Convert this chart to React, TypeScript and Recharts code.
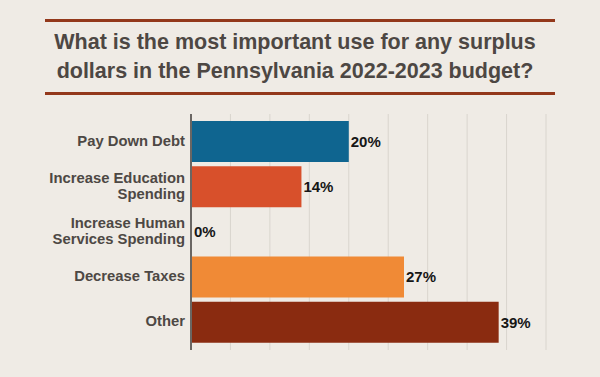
import { BarChart, Bar, XAxis, YAxis, CartesianGrid, Cell, LabelList } from 'recharts';

const categories = [
  'Pay Down Debt',
  'Increase Education\nSpending',
  'Increase Human\nServices Spending',
  'Decrease Taxes',
  'Other',
];
const shares = [20, 14, 0, 27, 39];
const barColors = ['#0f6590', '#d8502b', 'none', '#f08a36', '#8a2b10'];
const xTicks = [0, 5, 10, 15, 20, 25, 30, 35, 40, 45];

const FONT = '"Liberation Sans", Arial, Helvetica, sans-serif';

const data = categories.map((name, i) => ({ name, value: shares[i] }));

function CategoryTick(props: any) {
  const { x, y, payload } = props;
  const lines = String(payload.value).split('\n');
  const lh = 15.5;
  const startY = y - 1 - ((lines.length - 1) * lh) / 2;
  return (
    <text
      x={x}
      y={startY}
      textAnchor="end"
      dominantBaseline="central"
      fill="#4d4844"
      fontFamily={FONT}
      fontWeight="bold"
      fontSize={14.8}
    >
      {lines.map((line, i) => (
        <tspan key={i} x={x} y={startY + i * lh}>
          {line}
        </tspan>
      ))}
    </text>
  );
}

const rule = (top: number) => (
  <div
    style={{
      position: 'absolute',
      left: 45,
      top,
      width: 510,
      height: 3,
      background: '#93381b',
    }}
  />
);

export default function App() {
  return (
    <div
      style={{
        position: 'absolute',
        left: 0,
        top: 0,
        width: 600,
        height: 377,
        background: '#efebe5',
        overflow: 'hidden',
      }}
    >
      {rule(19)}
      <div
        style={{
          position: 'absolute',
          left: -5,
          top: 28,
          width: 600,
          textAlign: 'center',
          fontFamily: FONT,
          fontWeight: 'bold',
          fontSize: 21.5,
          lineHeight: '29px',
          color: '#4d4743',
        }}
      >
        What is the most important use for any surplus
        <br />
        dollars in the Pennsylvania 2022-2023 budget?
      </div>
      {rule(92)}
      <div style={{ position: 'absolute', left: 0, top: 0 }}>
        <BarChart
          width={600}
          height={377}
          data={data}
          layout="vertical"
          margin={{ top: 114, right: 54, bottom: 27, left: 0 }}
        >
          <CartesianGrid horizontal={false} stroke="#d9d5ce" strokeWidth={1} />
          <XAxis type="number" domain={[0, 45]} ticks={xTicks} hide />
          <YAxis
            type="category"
            dataKey="name"
            width={191}
            padding={{ top: 5, bottom: 5 }}
            axisLine={{ stroke: '#6a6663', strokeWidth: 2 }}
            tickLine={false}
            tick={<CategoryTick />}
            tickMargin={0}
            interval={0}
          />
          <Bar dataKey="value" barSize={41} minPointSize={1} isAnimationActive={false}>
            {data.map((_, i) => (
              <Cell key={`c-${i}`} fill={barColors[i]} />
            ))}
            <LabelList
              dataKey="value"
              position="right"
              offset={2}
              formatter={(v: any) => `${v}%`}
              fill="#161616"
              fontFamily={FONT}
              fontWeight="bold"
              fontSize={15}
            />
          </Bar>
        </BarChart>
      </div>
    </div>
  );
}
